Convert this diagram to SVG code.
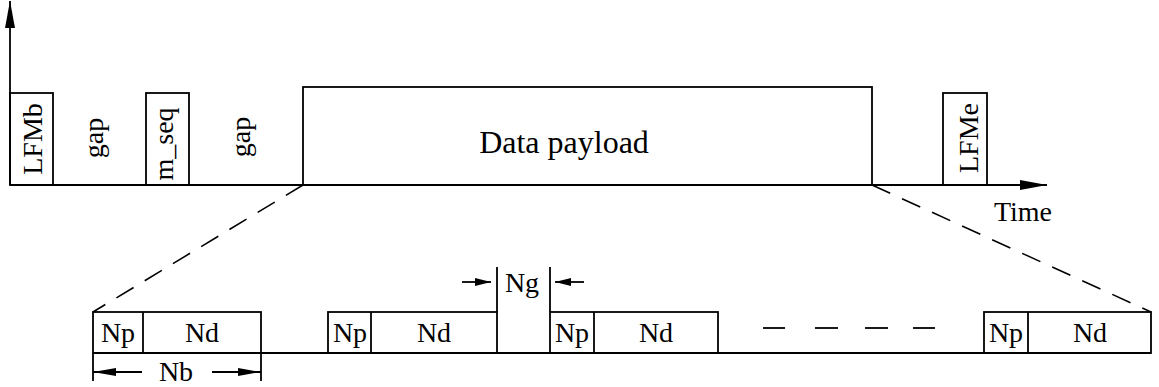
<svg xmlns="http://www.w3.org/2000/svg" width="1159" height="387" viewBox="0 0 1159 387">
<style>
.b{fill:none;stroke:#000;stroke-width:1.8}
.l{stroke:#000;stroke-width:1.8;fill:none}
.d{stroke:#000;stroke-width:1.6;fill:none;stroke-dasharray:20 13}
text{font-family:"Liberation Serif","Times New Roman",serif;font-size:28px;fill:#000;text-anchor:middle}
.big{font-size:32px}
</style>
<defs>
<marker id="ah" markerWidth="28" markerHeight="10" refX="27" refY="5" orient="auto" markerUnits="userSpaceOnUse"><path d="M0,0 L27,5 L0,10 Z" fill="#000"/></marker>
<marker id="al" markerWidth="24" markerHeight="8" refX="23" refY="4" orient="auto" markerUnits="userSpaceOnUse"><path d="M0,0 L23,4 L0,8 Z" fill="#000"/></marker>
<marker id="as" markerWidth="17" markerHeight="8" refX="16" refY="4" orient="auto" markerUnits="userSpaceOnUse"><path d="M0,0 L16,4 L0,8 Z" fill="#000"/></marker>
</defs>
<g id="connectors">
<line class="l" x1="10" y1="185" x2="10" y2="1" marker-end="url(#ah)"/>
<line class="l" x1="10" y1="185" x2="1047" y2="185" marker-end="url(#ah)"/>
<line class="d" x1="303" y1="185" x2="93" y2="312"/>
<line class="d" x1="872" y1="185" x2="1151" y2="312"/>
<line class="l" x1="93" y1="353" x2="1151" y2="353"/>
<line class="l" x1="763" y1="328" x2="785" y2="328"/>
<line class="l" x1="815" y1="328" x2="838" y2="328"/>
<line class="l" x1="865" y1="328" x2="888" y2="328"/>
<line class="l" x1="913" y1="328" x2="935" y2="328"/>
<line class="l" x1="93" y1="353" x2="93" y2="381"/>
<line class="l" x1="261" y1="353" x2="261" y2="381"/>
<line class="l" x1="142" y1="372" x2="93" y2="372" marker-end="url(#al)"/>
<line class="l" x1="212" y1="372" x2="261" y2="372" marker-end="url(#al)"/>
<line class="l" x1="497" y1="312" x2="497" y2="267"/>
<line class="l" x1="550" y1="312" x2="550" y2="267"/>
<line class="l" x1="462" y1="282" x2="491" y2="282" marker-end="url(#as)"/>
<line class="l" x1="584" y1="282" x2="555" y2="282" marker-end="url(#as)"/>
</g>
<g id="LFMb"><rect class="b" x="10" y="93" width="43" height="92"/><text transform="translate(42,139) rotate(-90)">LFMb</text></g>
<g id="gap1"><text transform="translate(103,138) rotate(-90)">gap</text></g>
<g id="m_seq"><rect class="b" x="146" y="93" width="43" height="92"/><text transform="translate(173,144) rotate(-90)">m_seq</text></g>
<g id="gap2"><text transform="translate(250,137) rotate(-90)">gap</text></g>
<g id="payload"><rect class="b" x="303" y="87" width="569" height="98"/><text class="big" x="564" y="153">Data payload</text></g>
<g id="LFMe"><rect class="b" x="943" y="93" width="44" height="92"/><text transform="translate(978,138) rotate(-90)">LFMe</text></g>
<g id="time"><text x="1023" y="221">Time</text></g>
<g id="block1"><rect class="b" x="93" y="312" width="168" height="41"/><line class="l" x1="143" y1="312" x2="143" y2="353"/><text x="118" y="342">Np</text><text x="202" y="342">Nd</text></g>
<g id="block2"><rect class="b" x="328" y="312" width="169" height="41"/><line class="l" x1="371" y1="312" x2="371" y2="353"/><text x="350" y="342">Np</text><text x="434" y="342">Nd</text></g>
<g id="block3"><rect class="b" x="550" y="312" width="168" height="41"/><line class="l" x1="594" y1="312" x2="594" y2="353"/><text x="572" y="342">Np</text><text x="656" y="342">Nd</text></g>
<g id="block4"><rect class="b" x="984" y="312" width="167" height="41"/><line class="l" x1="1028" y1="312" x2="1028" y2="353"/><text x="1006" y="342">Np</text><text x="1090" y="342">Nd</text></g>
<g id="Nb"><text x="176" y="381">Nb</text></g>
<g id="Ng"><text x="522" y="292">Ng</text></g>
</svg>
